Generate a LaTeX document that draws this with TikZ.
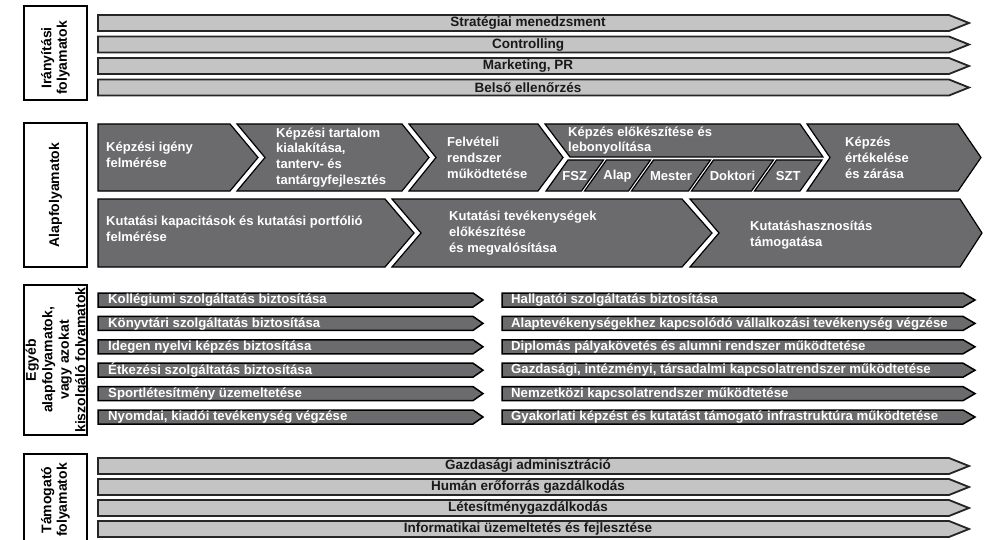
\documentclass[tikz,border=0pt]{standalone}
\usepackage{fontspec}
\setmainfont{Liberation Sans}
\definecolor{barlight}{HTML}{C4C4C4}
\definecolor{bardark}{HTML}{6B6B6D}
\definecolor{edgecol}{HTML}{262626}

% light grey full-width process bar with centred title
\newcommand\lightbar[3]{%
  \draw[lightbarS] (98,#2) -- (949,#2) -- (969,#2+8) -- (949,#2+16) -- (98,#2+16) -- cycle;
  \node[lighttext] (#1) at (528,#2+8.3) {#3};}
% dark half-width bars (left / right column)
\newcommand\darkbarL[3]{%
  \draw[darkbarS] (98,#2) -- (473,#2) -- (483,#2+7) -- (473,#2+14) -- (98,#2+14) -- cycle;
  \node[darktext] (#1) at (108,#2+7.3) {#3};}
\newcommand\darkbarR[3]{%
  \draw[darkbarS] (502,#2) -- (963,#2) -- (975,#2+7) -- (963,#2+14) -- (502,#2+14) -- cycle;
  \node[darktext] (#1) at (511,#2+7.3) {#3};}
% slanted sub-box inside the training chevron: name, top-left x, top-right x, text
\newcommand\subbox[4]{%
  \draw[chevS] (#2,160) -- (#3,160) -- (#3-22,191) -- (#2-22,191) -- cycle;
  \node[subtext] (#1) at ({(#2+#3)/2-11},175.8) {#4};}

\begin{document}
\begin{tikzpicture}[x=1pt,y=-1pt,
  groupbox/.style={draw=black,line width=2pt,fill=white},
  grouptext/.style={rotate=90,align=center,font=\bfseries\fontsize{14}{15.5}\selectfont,inner sep=0pt},
  lightbarS/.style={fill=barlight,draw=edgecol,line width=1.8pt,line join=miter},
  lighttext/.style={font=\bfseries\fontsize{13.5}{15}\selectfont,text=black!90,inner sep=0pt},
  darkbarS/.style={fill=bardark,draw=black,line width=1.5pt,line join=miter},
  darktext/.style={anchor=west,font=\bfseries\fontsize{13.2}{15}\selectfont,text=white,inner sep=0pt},
  chevS/.style={fill=bardark,draw=black,line width=1.2pt,line join=miter},
  chevtext/.style={anchor=west,align=left,font=\bfseries\fontsize{13}{15.8}\selectfont,text=white,inner sep=0pt},
  subtext/.style={font=\bfseries\fontsize{13}{15}\selectfont,text=white,inner sep=0pt}]
\useasboundingbox (0,0) rectangle (984,540);

% ---------- management processes ----------
\draw[groupbox] (24,6) rectangle (87,100);
\node[grouptext] (g1) at (55.5,58) {Irányítási\\folyamatok};
\lightbar{strat}{15}{Stratégiai menedzsment}
\lightbar{contr}{36.5}{Controlling}
\lightbar{mark}{58}{Marketing, PR}
\lightbar{audit}{79.5}{Belső ellenőrzés}

% ---------- core processes ----------
\draw[groupbox] (24,123) rectangle (87,267);
\node[grouptext] (g2) at (55.5,195) {Alapfolyamatok};

% training chain
\draw[chevS] (98,124) -- (230,124) -- (258,157.5) -- (230,191) -- (98,191) -- cycle;
\node[chevtext] (igeny) at (106,155) {Képzési igény\\felmérése};
\draw[chevS] (237,124) -- (402,124) -- (429,157.5) -- (402,191) -- (237,191) -- (265,157.5) -- cycle;
\node[chevtext] (tart) at (276,157.5) {Képzési tartalom\\kialakítása,\\tanterv- és\\tantárgyfejlesztés};
\draw[chevS] (409,124) -- (538,124) -- (563,157.5) -- (538,191) -- (409,191) -- (436,157.5) -- cycle;
\node[chevtext] (felv) at (447,158) {Felvételi\\rendszer\\működtetése};
\draw[chevS] (545,124) -- (800,124) -- (823,157) -- (570,157) -- cycle;
\node[chevtext] (elok) at (568,140.5) {Képzés előkészítése és\\lebonyolítása};
\subbox{fsz}{568}{603.5}{FSZ}
\subbox{alap}{606.5}{650.5}{Alap}
\subbox{mester}{653.5}{710.5}{Mester}
\subbox{dokt}{713.5}{773.5}{Doktori}
\subbox{szt}{776.5}{822}{SZT}
\draw[chevS] (807,124) -- (958,124) -- (981,157.5) -- (958,191) -- (807,191) -- (830,157.5) -- cycle;
\node[chevtext] (ertek) at (845,158) {Képzés\\értékelése\\és zárása};

% research chain
\draw[chevS] (98,199) -- (385,199) -- (414,233) -- (385,267) -- (98,267) -- cycle;
\node[chevtext] (kapac) at (106,229) {Kutatási kapacitások és kutatási portfólió\\felmérése};
\draw[chevS] (392,199) -- (682,199) -- (712,233) -- (682,267) -- (392,267) -- (421,233) -- cycle;
\node[chevtext] (tev) at (449,233) {Kutatási tevékenységek\\előkészítése\\és megvalósítása};
\draw[chevS] (690,199) -- (960,199) -- (982,233) -- (960,267) -- (690,267) -- (719,233) -- cycle;
\node[chevtext] (haszn) at (750,235) {Kutatáshasznosítás\\támogatása};

% ---------- other core / serving processes ----------
\draw[groupbox] (24,285) rectangle (87,435);
\node[grouptext,font=\bfseries\fontsize{14}{16.5}\selectfont] (g3) at (57,360) {Egyéb\\alapfolyamatok,\\vagy azokat\\kiszolgáló folyamatok};
\darkbarL{koll}{293}{Kollégiumi szolgáltatás biztosítása}
\darkbarL{konyv}{316.4}{Könyvtári szolgáltatás biztosítása}
\darkbarL{nyelv}{339.8}{Idegen nyelvi képzés biztosítása}
\darkbarL{etk}{363.2}{Étkezési szolgáltatás biztosítása}
\darkbarL{sport}{386.6}{Sportlétesítmény üzemeltetése}
\darkbarL{nyomda}{410}{Nyomdai, kiadói tevékenység végzése}
\darkbarR{hallg}{293}{Hallgatói szolgáltatás biztosítása}
\darkbarR{vall}{316.4}{Alaptevékenységekhez kapcsolódó vállalkozási tevékenység végzése}
\darkbarR{dipl}{339.8}{Diplomás pályakövetés és alumni rendszer működtetése}
\darkbarR{gazd}{363.2}{Gazdasági, intézményi, társadalmi kapcsolatrendszer működtetése}
\darkbarR{nemz}{386.6}{Nemzetközi kapcsolatrendszer működtetése}
\darkbarR{gyak}{410}{Gyakorlati képzést és kutatást támogató infrastruktúra működtetése}

% ---------- supporting processes ----------
\draw[groupbox] (24,454) rectangle (87,552);
\node[grouptext] (g4) at (55.5,500) {Támogató\\folyamatok};
\lightbar{admin}{458}{Gazdasági adminisztráció}
\lightbar{human}{479}{Humán erőforrás gazdálkodás}
\lightbar{letes}{500}{Létesítménygazdálkodás}
\lightbar{info}{521}{Informatikai üzemeltetés és fejlesztése}
\end{tikzpicture}
\end{document}
